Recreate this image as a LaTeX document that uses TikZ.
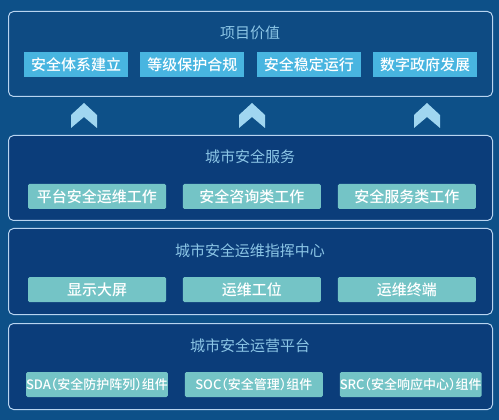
\documentclass[tikz,border=0pt]{standalone}
\usepackage{fontspec}
\setmainfont{Noto Sans CJK SC}
\newfontfamily\medfont{Noto Sans CJK SC Medium}
\usetikzlibrary{positioning}

\begin{document}
\begin{tikzpicture}[x=1pt, y=-1pt, line join=round,
		node distance=12pt]
		
		% Colors
		\definecolor{BgBlue}{RGB}{13,80,136}
		\definecolor{TopFill}{RGB}{14,75,131}
		\definecolor{LayerFill}{RGB}{11,61,122}
		\definecolor{PanelLine}{RGB}{184,212,240}
		\definecolor{TitleBlue}{RGB}{140,198,230}
		\definecolor{ValueCyan}{RGB}{72,181,224}
		\definecolor{WorkTeal}{RGB}{116,196,198}
		\definecolor{ChevBlue}{RGB}{160,214,240}
		
		% Styles
		\tikzset{
			panel/.style={
				draw=PanelLine, line width=1pt, rounded corners=5pt,
				anchor=north west, inner sep=0pt, minimum width=484pt
			},
			title/.style={text=TitleBlue, font=\fontsize{15}{18}\selectfont},
			tag/.style={
				inner sep=0pt, minimum height=25pt, text=white,
				font=\medfont\fontsize{15}{18}\selectfont
			},
			valbox/.style={tag, fill=ValueCyan, minimum width=104pt},
			workbox/.style={tag, fill=WorkTeal, minimum width=138pt, rounded corners=1.5pt},
			smallfont/.style={font=\medfont\fontsize{13}{15}\selectfont\addfontfeatures{RawFeature=+halt}},
			chev/.style={fill=ChevBlue}
		}
		
		% Background
		\fill[BgBlue] (0,0) rectangle (499,420);
		\useasboundingbox (0,0) rectangle (499,420);
		
		% Panels
		\node[panel, fill=TopFill, minimum height=85pt] (value) at (8,11) {};
		\node[panel, fill=LayerFill, minimum height=85pt] (service) at (8,135) {};
		\node[panel, fill=LayerFill, minimum height=86pt] (command) at (8,228) {};
		\node[panel, fill=LayerFill, minimum height=86pt] (platform) at (8,323) {};
		
		% Titles
		\node[title] (valuet) at (250,33) {项目价值};
		\node[title] (servicet) at (250,157) {城市安全服务};
		\node[title] (commandt) at (250,251) {城市安全运维指挥中心};
		\node[title] (platformt) at (250,346) {城市安全运营平台};
		
		% Project value
		\node[valbox] (v1) at (76,64.5) {安全体系建立};
		\node[valbox, right=of v1] (v2) {等级保护合规};
		\node[valbox, right=of v2] (v3) {安全稳定运行};
		\node[valbox, right=of v3] (v4) {数字政府发展};
		
		% City security service
		\node[workbox] (s1) at (97,196.5) {平台安全运维工作};
		\node[workbox, right=16.5pt of s1] (s2) {安全咨询类工作};
		\node[workbox, right=16.5pt of s2] (s3) {安全服务类工作};
		
		% Command center
		\node[workbox] (c1) at (97,289.5) {显示大屏};
		\node[workbox, right=16.5pt of c1] (c2) {运维工位};
		\node[workbox, right=16.5pt of c2] (c3) {运维终端};
		
		% Operation platform
		\node[workbox, smallfont] (p1) at (97,384.5) {SDA（安全防护阵列）组件};
		\node[workbox, smallfont, right=16.5pt of p1] (p2) {SOC（安全管理）组件};
		\node[workbox, smallfont, right=16.5pt of p2] (p3) {SRC（安全响应中心）组件};
		
		% Up chevrons
		\foreach \cx in {84,252,427}
		\fill[chev] (\cx,103) -- ++(13,12) -- ++(0,13) -- ++(-13,-11)
		-- ++(-13,11) -- ++(0,-13) -- cycle;
		
	\end{tikzpicture}
\end{document}
